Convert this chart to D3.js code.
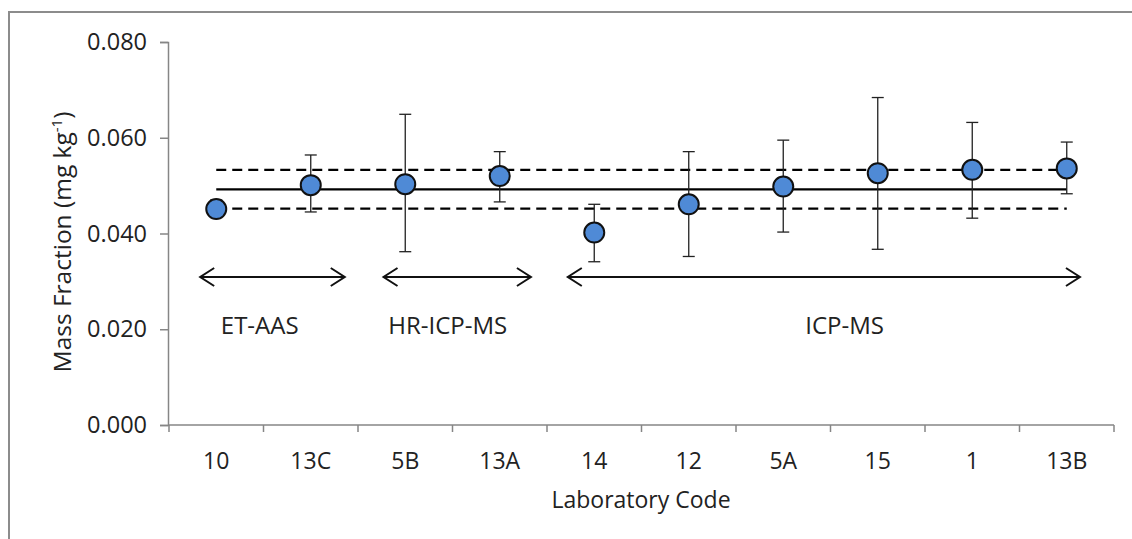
<!DOCTYPE html>
<html>
<head>
<meta charset="utf-8">
<script src="https://cdn.jsdelivr.net/npm/d3@7"></script>
<style>
  body { margin: 0; background: #fff; }
  text { font-family: "Open Sans", sans-serif; fill: #222; }
</style>
</head>
<body>
<div class="board"></div>
<script>

// laboratory codes and results
var codes = ['10', '13C', '5B', '13A', '14', '12', '5A', '15', '1', '13B'];
var means = [0.0451, 0.0501, 0.0503, 0.0520, 0.0402, 0.0461, 0.0498, 0.0526, 0.0533, 0.0536];
var lows  = [0.0451, 0.0445, 0.0362, 0.0466, 0.0341, 0.0352, 0.0403, 0.0367, 0.0432, 0.0483];
var highs = [0.0470, 0.0564, 0.0649, 0.0571, 0.0461, 0.0571, 0.0595, 0.0684, 0.0632, 0.0591];
var yTicks = [0, 0.02, 0.04, 0.06, 0.08];

// assigned value and its uncertainty band
var assigned = 0.0492;
var bandLow = 0.0452;
var bandHigh = 0.0533;

// method groups (category index ranges)
var methods = ['ET-AAS', 'HR-ICP-MS', 'ICP-MS'];
var methodFrom = [0, 2, 4];
var methodTo = [1, 3, 9];

var width = 1132, height = 539;

var svg = d3.select('.board').append('svg')
            .attr('width', width)
            .attr('height', height);

// outer frame
svg.append('rect')
   .attr('x', 9).attr('y', 12)
   .attr('width', 1140).attr('height', 540)
   .attr('fill', 'none')
   .attr('stroke', '#8c8c8c')
   .attr('stroke-width', 2);

var x = d3.scaleBand().domain(codes).range([169, 1114]);
var y = d3.scaleLinear().domain([0, 0.08]).range([425, 42]);
var xc = function(c) { return x(c) + x.bandwidth() / 2; };
// fractional index position for annotations
var xi = d3.scaleLinear().domain([0, 9]).range([xc(codes[0]), xc(codes[9])]);

var axisColor = '#868686';

// y axis
var yAxis = svg.append('g')
               .attr('transform', 'translate(168,0)')
               .call(d3.axisLeft(y).tickValues(yTicks).tickSize(8).tickPadding(13).tickFormat(d3.format('.3f')));
yAxis.select('.domain').attr('stroke', axisColor).attr('stroke-width', 1.5);
yAxis.selectAll('.tick line').attr('stroke', axisColor).attr('stroke-width', 1.5);
yAxis.selectAll('.tick text')
     .attr('font-family', '"Open Sans", sans-serif')
     .attr('font-size', 23.5)
     .attr('fill', '#222');

// x axis: ticks between categories
var xg = svg.append('g');
xg.append('line')
  .attr('x1', 168).attr('x2', 1114)
  .attr('y1', 425).attr('y2', 425)
  .attr('stroke', axisColor).attr('stroke-width', 1.5);
var bounds = codes.map(function(c) { return x(c); }).concat([x(codes[9]) + x.bandwidth()]);
xg.selectAll('line.tk')
  .data(bounds)
  .enter()
  .append('line')
  .attr('class', 'tk')
  .attr('x1', function(d) { return d; })
  .attr('x2', function(d) { return d; })
  .attr('y1', 425).attr('y2', 432)
  .attr('stroke', axisColor).attr('stroke-width', 1.5);
xg.selectAll('text')
  .data(codes)
  .enter()
  .append('text')
  .attr('x', function(d) { return xc(d); })
  .attr('y', 469)
  .attr('text-anchor', 'middle')
  .attr('font-size', 23)
  .text(function(d) { return d; });

svg.append('text')
   .attr('x', 641).attr('y', 508)
   .attr('text-anchor', 'middle')
   .attr('font-size', 23)
   .text('Laboratory Code');

var yl = svg.append('text')
   .attr('transform', 'translate(71,242) rotate(-90)')
   .attr('text-anchor', 'middle')
   .attr('font-size', 24.5);
yl.append('tspan').text('Mass Fraction (mg kg');
yl.append('tspan').attr('dy', -9).attr('font-size', 15).text('-1');
yl.append('tspan').attr('dy', 9).text(')');

// reference lines
var refs = [
  {v: bandHigh, dash: '10,6'},
  {v: assigned, dash: null},
  {v: bandLow, dash: '10,6'}
];
svg.selectAll('line.ref')
   .data(refs)
   .enter()
   .append('line')
   .attr('class', 'ref')
   .attr('x1', xc(codes[0])).attr('x2', xc(codes[9]))
   .attr('y1', function(d) { return y(d.v); })
   .attr('y2', function(d) { return y(d.v); })
   .attr('stroke', '#000')
   .attr('stroke-width', 2.2)
   .attr('stroke-dasharray', function(d) { return d.dash; });

// error bars
var pts = codes.map(function(c, i) { return {code: c, m: means[i], lo: lows[i], hi: highs[i]}; });
var eb = svg.selectAll('g.eb')
            .data(pts)
            .enter()
            .append('g')
            .attr('class', 'eb')
            .attr('stroke', '#222')
            .attr('stroke-width', 1.3);
eb.append('line')
  .attr('x1', function(d) { return xc(d.code); })
  .attr('x2', function(d) { return xc(d.code); })
  .attr('y1', function(d) { return y(d.lo); })
  .attr('y2', function(d) { return y(d.hi); });
eb.append('line')
  .attr('x1', function(d) { return xc(d.code) - 6; })
  .attr('x2', function(d) { return xc(d.code) + 6; })
  .attr('y1', function(d) { return y(d.hi); })
  .attr('y2', function(d) { return y(d.hi); });
eb.append('line')
  .attr('x1', function(d) { return xc(d.code) - 6; })
  .attr('x2', function(d) { return xc(d.code) + 6; })
  .attr('y1', function(d) { return y(d.lo); })
  .attr('y2', function(d) { return y(d.lo); });

// markers
svg.selectAll('circle')
   .data(pts)
   .enter()
   .append('circle')
   .attr('cx', function(d) { return xc(d.code); })
   .attr('cy', function(d) { return y(d.m); })
   .attr('r', 10)
   .attr('fill', '#4f8ad6')
   .attr('stroke', '#111')
   .attr('stroke-width', 2);

// method arrows
var arrowY = 277;
var padL = [0.17, 0.23, 0.28];
var padR = [0.36, 0.33, 0.14];
var labelPos = [0.46, 2.45, 6.65];
methods.forEach(function(m, i) {
  var x1 = xi(methodFrom[i] - padL[i]);
  var x2 = xi(methodTo[i] + padR[i]);
  var g = svg.append('g').attr('stroke', '#111').attr('stroke-width', 2).attr('fill', 'none');
  g.append('line').attr('x1', x1).attr('x2', x2).attr('y1', arrowY).attr('y2', arrowY);
  g.append('path').attr('d', 'M' + (x1 + 14) + ',' + (arrowY - 9) + 'L' + x1 + ',' + arrowY + 'L' + (x1 + 14) + ',' + (arrowY + 9));
  g.append('path').attr('d', 'M' + (x2 - 14) + ',' + (arrowY - 9) + 'L' + x2 + ',' + arrowY + 'L' + (x2 - 14) + ',' + (arrowY + 9));
  svg.append('text')
     .attr('x', xi(labelPos[i]))
     .attr('y', 334)
     .attr('text-anchor', 'middle')
     .attr('font-size', 24)
     .text(m);
});

</script>
</body>
</html>
